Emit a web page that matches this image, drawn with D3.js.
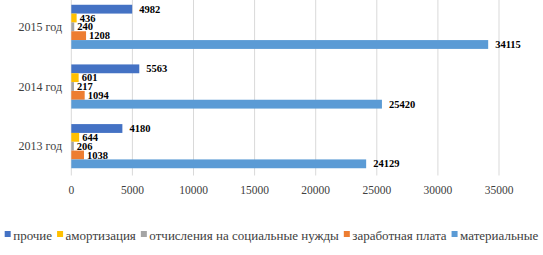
<!DOCTYPE html>
<html>
<head>
<meta charset="utf-8">
<script src="https://cdn.jsdelivr.net/npm/d3@7"></script>
<style>
  body { margin: 0; background: #fff; }
</style>
</head>
<body>
<svg id="chart" width="543" height="255" font-family="'Liberation Serif', 'DejaVu Serif', serif"></svg>
<script>
// данные
var years = ["2015 год", "2014 год", "2013 год"];
var series = ["прочие", "амортизация", "отчисления на социальные нужды", "заработная плата", "материальные"];
var colors = ["#4472C4", "#FFC000", "#A5A5A5", "#ED7D31", "#5B9BD5"];
var procie = [4982, 5563, 4180];
var amort = [436, 601, 644];
var otchisl = [240, 217, 206];
var zarplata = [1208, 1094, 1038];
var material = [34115, 25420, 24129];
var xTicks = [0, 5000, 10000, 15000, 20000, 25000, 30000, 35000];

var values = [procie, amort, otchisl, zarplata, material];

var svg = d3.select("#chart");

var x = d3.scaleLinear().domain([0, 35000]).range([71.3, 499]);
var y0 = d3.scaleBand().domain(years).range([-3, 176]).padding(0);
var y1 = d3.scaleBand().domain(series)
  .range([y0.bandwidth() * 0.13, y0.bandwidth() * 0.87]);

// сетка
svg.append("g").selectAll("line")
  .data(xTicks)
  .enter()
  .append("line")
  .attr("x1", d => x(d)).attr("x2", d => x(d))
  .attr("y1", 0).attr("y2", 175.5)
  .attr("stroke", "#d9d9d9")
  .attr("stroke-width", 1);

// подписи оси X
svg.append("g").selectAll("text")
  .data(xTicks)
  .enter()
  .append("text")
  .attr("x", d => x(d))
  .attr("y", 194)
  .attr("text-anchor", "middle")
  .attr("font-size", "11.5px")
  .attr("fill", "#404040")
  .text(d => d);

// подписи категорий
svg.append("g").selectAll("text")
  .data(years)
  .enter()
  .append("text")
  .attr("x", 62)
  .attr("y", d => y0(d) + y0.bandwidth() / 2 + 4)
  .attr("text-anchor", "end")
  .attr("font-size", "12px")
  .attr("fill", "#404040")
  .text(d => d);

// бары
var rows = [];
years.forEach(function (yr, i) {
  series.forEach(function (s, j) {
    rows.push({ year: yr, s: s, v: values[j][i], c: colors[j] });
  });
});

var g = svg.append("g");
g.selectAll("rect")
  .data(rows)
  .enter()
  .append("rect")
  .attr("x", x(0))
  .attr("y", d => y0(d.year) + y1(d.s))
  .attr("width", d => x(d.v) - x(0))
  .attr("height", y1.bandwidth())
  .attr("fill", d => d.c);

g.selectAll("text")
  .data(rows)
  .enter()
  .append("text")
  .attr("x", d => x(d.v) + (d.v > 3000 ? 7 : 3))
  .attr("y", d => y0(d.year) + y1(d.s) + y1.bandwidth() / 2 + 3.6)
  .attr("font-size", "10.5px")
  .attr("font-weight", "bold")
  .attr("fill", "#000")
  .text(d => d.v);

// легенда
var leg = svg.append("g");
var lx = 0;
series.forEach(function (s, j) {
  var item = leg.append("g").attr("transform", "translate(" + lx + ",0)");
  item.append("rect")
    .attr("x", 0).attr("y", 231)
    .attr("width", 6).attr("height", 6)
    .attr("fill", colors[j]);
  var t = item.append("text")
    .attr("x", 8.5).attr("y", 239.5)
    .attr("font-size", "13px")
    .attr("fill", "#404040")
    .text(s);
  lx += 8.5 + t.node().getComputedTextLength() + 5;
});
var total = lx - 5;
leg.attr("transform", "translate(" + ((543 - total) / 2) + ",0)");
</script>
</body>
</html>
